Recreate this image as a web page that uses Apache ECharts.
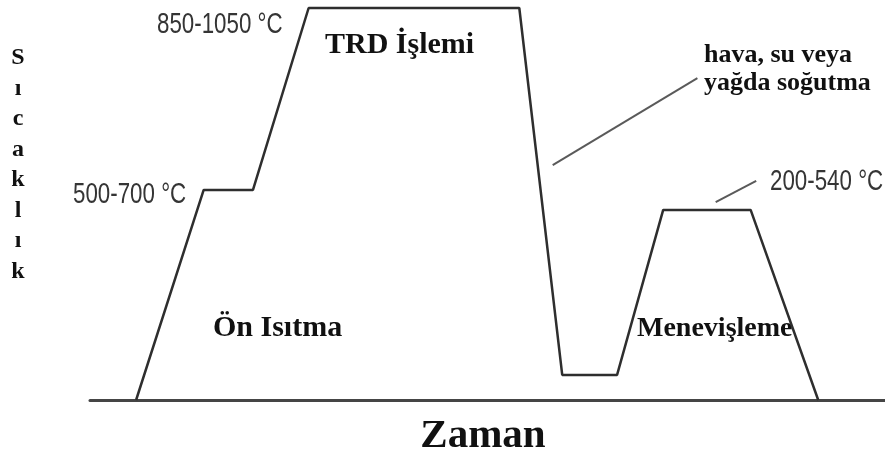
<!DOCTYPE html>
<html>
<head>
<meta charset="utf-8">
<script src="https://cdn.jsdelivr.net/npm/echarts@6/dist/echarts.min.js"></script>
<style>
  html, body { margin: 0; padding: 0; background: #fff; }
  #chart { width: 885px; height: 455px; }
</style>
</head>
<body>
<div id="chart"></div>
<script>
var myChart = echarts.init(document.getElementById('chart'));

// heat treatment cycle: time (relative) vs temperature (relative, 0 = room)
var cycleTime = [5.8, 14.3, 20.5, 27.5, 54.0, 59.4, 66.3, 72.1, 83.1, 91.6];
var cycleTemp = [0, 53.6, 53.6, 100, 100, 6.4, 6.4, 48.5, 48.5, 0];

// leader lines for the annotations
var coolLeaderTime = [58.2, 76.4];
var coolLeaderTemp = [59.9, 82.1];
var temperLeaderTime = [78.7, 83.8];
var temperLeaderTemp = [50.5, 55.9];

var yTitle = 'Sıcaklık';
var xTitle = 'Zaman';

var pairs = function (xs, ys) {
    var res = [];
    for (var i = 0; i < xs.length; i++) {
        res.push([xs[i], ys[i]]);
    }
    return res;
};

var serif = '"Liberation Serif", "Times New Roman", serif';
var sans = '"Liberation Sans", Arial, sans-serif';

var txt = function (x, y, text, font, color, extra, scaleX) {
    var el = {
        type: 'text',
        x: x,
        y: y,
        silent: true,
        style: {
            text: text,
            font: font,
            fill: color,
            textAlign: 'left',
            textVerticalAlign: 'middle'
        }
    };
    if (extra) {
        for (var k in extra) el.style[k] = extra[k];
    }
    if (scaleX) el.scaleX = scaleX; // narrow look of the temperature labels
    return el;
};

option = {
    animation: false,
    backgroundColor: '#fff',
    grid: { left: 90, right: 0, top: 8, bottom: 55 },
    xAxis: {
        type: 'value',
        min: 0,
        max: 100,
        axisLine: { show: true, lineStyle: { color: '#454545', width: 3 } },
        axisTick: { show: false },
        axisLabel: { show: false },
        splitLine: { show: false }
    },
    yAxis: {
        type: 'value',
        min: 0,
        max: 100,
        show: false
    },
    series: [{
        name: 'cycle',
        type: 'line',
        data: pairs(cycleTime, cycleTemp),
        symbol: 'none',
        clip: false,
        lineStyle: { color: '#2e2e2e', width: 2.5 }
    }, {
        name: 'cooling',
        type: 'line',
        data: pairs(coolLeaderTime, coolLeaderTemp),
        symbol: 'none',
        lineStyle: { color: '#5a5a5a', width: 2 }
    }, {
        name: 'tempering',
        type: 'line',
        data: pairs(temperLeaderTime, temperLeaderTemp),
        symbol: 'none',
        lineStyle: { color: '#5a5a5a', width: 2 }
    }],
    graphic: [
        txt(157, 25, '850-1050 °C', '29px ' + sans, '#353535', null, 0.77),
        txt(73, 195, '500-700 °C', '29px ' + sans, '#353535', null, 0.77),
        txt(770, 182, '200-540 °C', '29px ' + sans, '#353535', null, 0.77),
        txt(325, 45, 'TRD İşlemi', 'bold 30px ' + serif, '#111'),
        txt(704, 69, 'hava, su veya\nyağda soğutma', 'bold 26px ' + serif, '#111', { lineHeight: 28 }),
        txt(213, 328, 'Ön Isıtma', 'bold 30px ' + serif, '#111'),
        txt(637, 329, 'Menevişleme', 'bold 28px ' + serif, '#111'),
        txt(483, 436, xTitle, 'bold 41px ' + serif, '#111', { textAlign: 'center' }),
        txt(18, 165, yTitle.split('').join('\n'), 'bold 24px ' + serif, '#111', { textAlign: 'center', lineHeight: 30.5 })
    ]
};

myChart.setOption(option);
</script>
</body>
</html>
